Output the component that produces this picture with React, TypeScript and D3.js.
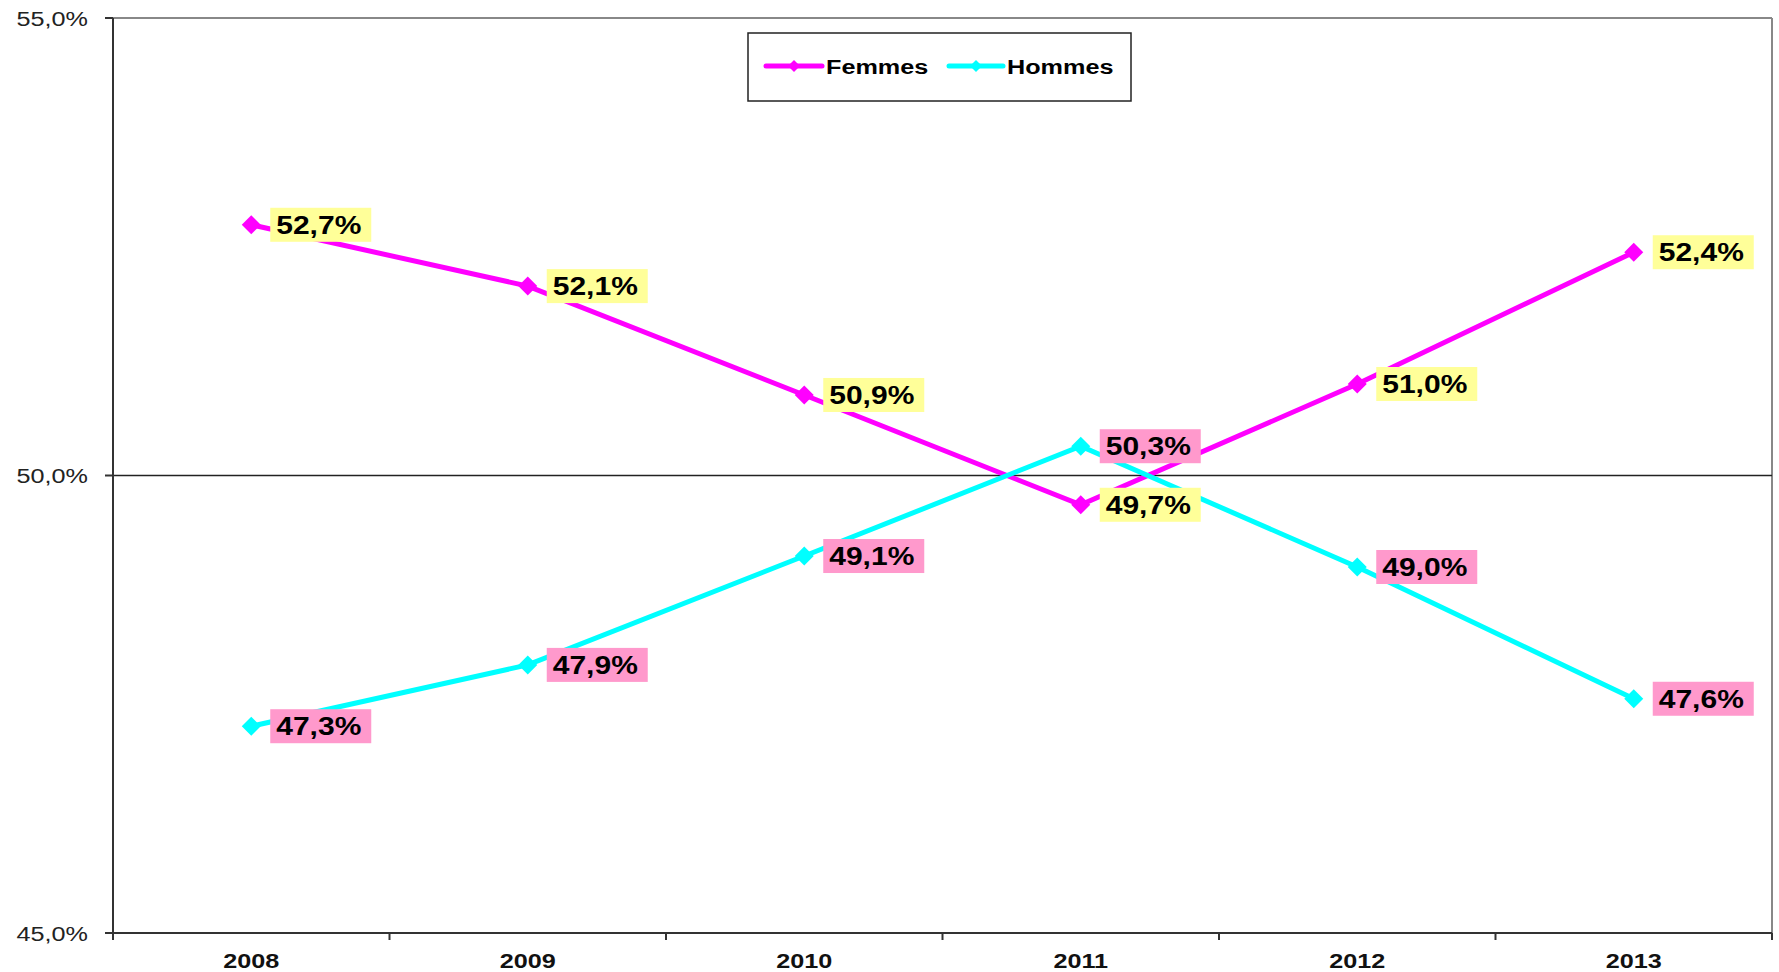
import React from "react";
import * as d3 from "d3";

const years = ["2008", "2009", "2010", "2011", "2012", "2013"];
const femmes = [52.74, 52.07, 50.88, 49.68, 51.0, 52.44];
const hommes = [47.26, 47.93, 49.12, 50.32, 49.0, 47.56];
const yTicks = [45, 50, 55];
const seriesNames = ["Femmes", "Hommes"];

const W = 1779;
const H = 972;
const left = 113;
const right = 1772;
const top = 18;
const bottom = 933;
const SX = 1.2;
const FONT = "'Liberation Sans', Arial, sans-serif";

const fmt = (v: number) => v.toFixed(1).replace(".", ",") + "%";

function SText({ x, y, anchor, size, weight, fill, children }: any) {
  return (
    <g transform={`translate(${x},${y}) scale(${SX},1)`}>
      <text
        x={0}
        y={0}
        textAnchor={anchor}
        fontSize={size}
        fontWeight={weight}
        fontFamily={FONT}
        fill={fill}
      >
        {children}
      </text>
    </g>
  );
}

export default function App() {
  const x = d3.scaleBand<string>().domain(years).range([left, right]);
  const y = d3.scaleLinear().domain([45, 55]).range([bottom, top]);
  const cx = (yr: string) => (x(yr) as number) + x.bandwidth() / 2;
  const line = d3
    .line<number>()
    .x((_, i) => cx(years[i]))
    .y((d) => y(d));
  const diamond = (px: number, py: number, r: number) =>
    `M${px},${py - r}L${px + r},${py}L${px},${py + r}L${px - r},${py}Z`;

  const series = [
    { name: seriesNames[0], values: femmes, color: "#ff00ff", box: "#ffff99" },
    { name: seriesNames[1], values: hommes, color: "#00ffff", box: "#ff99cc" },
  ];

  const xTickPos = years.map((yr) => x(yr) as number).concat([right]);

  return (
    <svg
      width={W}
      height={H}
      style={{ position: "absolute", left: 0, top: 0, display: "block", background: "#fff" }}
    >
      <rect x={0} y={0} width={W} height={H} fill="#fff" />
      <line x1={left} x2={right} y1={top} y2={top} stroke="#888" strokeWidth={2} />
      <line x1={right} x2={right} y1={top} y2={bottom} stroke="#888" strokeWidth={2} />
      <line x1={left} x2={right} y1={y(50)} y2={y(50)} stroke="#222" strokeWidth={1.5} />
      <line x1={left} x2={left} y1={top} y2={bottom} stroke="#333" strokeWidth={2} />
      {yTicks.map((t) => (
        <g key={t}>
          <line x1={left - 8} x2={left} y1={y(t)} y2={y(t)} stroke="#333" strokeWidth={2} />
          <SText x={88} y={y(t) + 7.5} anchor="end" size={21} weight="normal" fill="#222">
            {fmt(t)}
          </SText>
        </g>
      ))}
      <line x1={left} x2={right} y1={bottom} y2={bottom} stroke="#333" strokeWidth={2} />
      {xTickPos.map((p, i) => (
        <line key={i} x1={p} x2={p} y1={bottom} y2={bottom + 7} stroke="#333" strokeWidth={2} />
      ))}
      {years.map((yr) => (
        <SText key={yr} x={cx(yr)} y={968} anchor="middle" size={21} weight="bold" fill="#111">
          {yr}
        </SText>
      ))}
      {series.map((s) => (
        <g key={s.name}>
          <path d={line(s.values) as string} fill="none" stroke={s.color} strokeWidth={5} />
          {s.values.map((v, i) => (
            <path key={i} d={diamond(cx(years[i]), y(v), 9.5)} fill={s.color} />
          ))}
        </g>
      ))}
      {series.map((s) =>
        s.values.map((v, i) => {
          const px = cx(years[i]);
          const py = y(v);
          return (
            <g key={s.name + i}>
              <rect x={px + 19} y={py - 17} width={101} height={34} fill={s.box} />
              <SText x={px + 25} y={py + 9} anchor="start" size={25} weight="bold" fill="#000">
                {fmt(v)}
              </SText>
            </g>
          );
        })
      )}
      <rect x={748} y={33} width={383} height={68} fill="#fff" stroke="#222" strokeWidth={1.5} />
      {[
        { s: series[0], x0: 766, x1: 822, tx: 826 },
        { s: series[1], x0: 949, x1: 1003, tx: 1007 },
      ].map(({ s, x0, x1, tx }) => (
        <g key={s.name}>
          <line x1={x0} x2={x1} y1={66} y2={66} stroke={s.color} strokeWidth={5} strokeLinecap="round" />
          <path d={diamond((x0 + x1) / 2, 66, 6)} fill={s.color} />
          <SText x={tx} y={73.5} anchor="start" size={21} weight="bold" fill="#000">
            {s.name}
          </SText>
        </g>
      ))}
    </svg>
  );
}
